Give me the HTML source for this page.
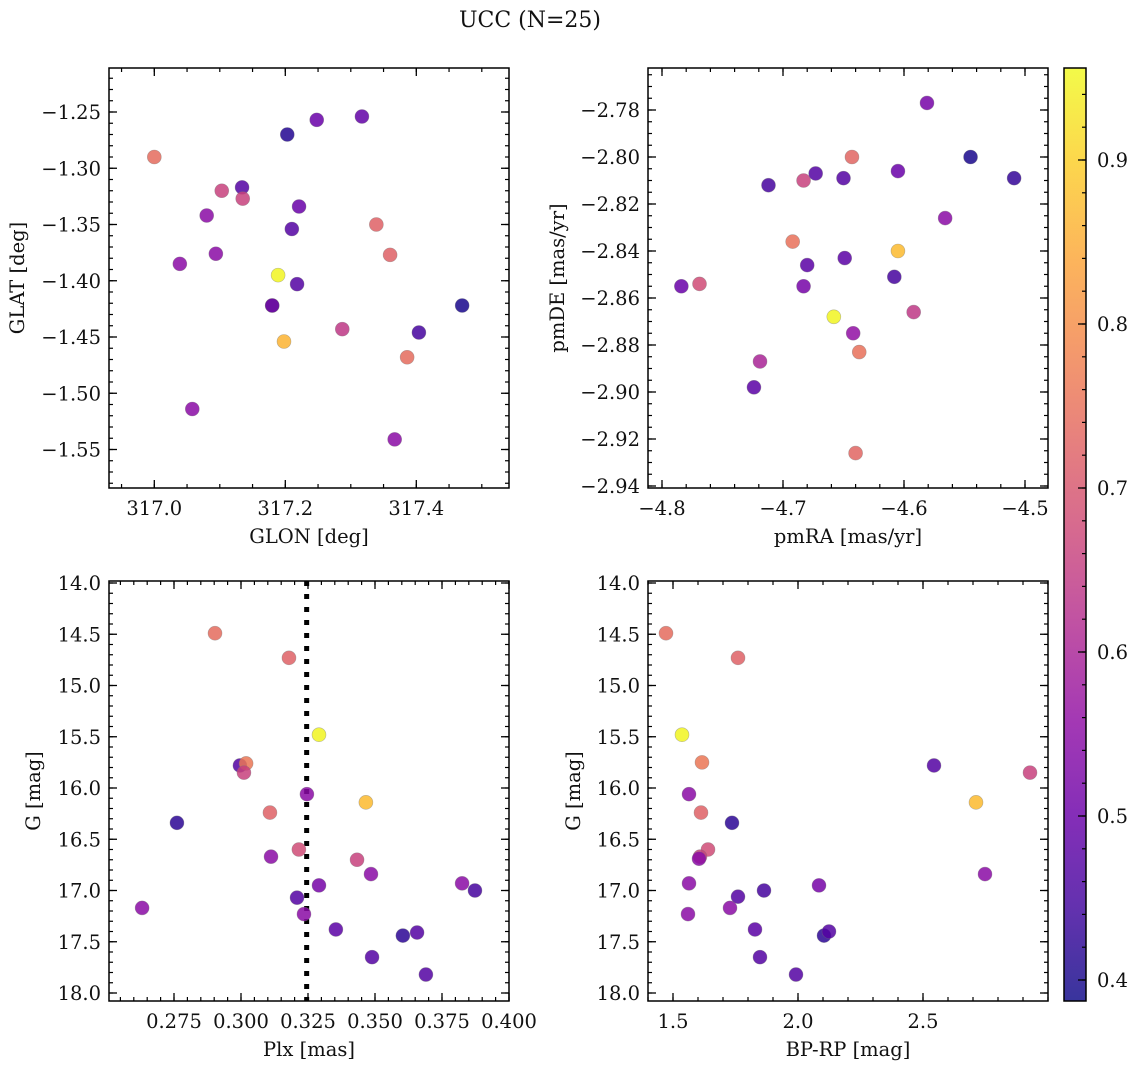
<!DOCTYPE html>
<html><head><meta charset="utf-8"><style>
html,body{margin:0;padding:0;background:#fff;}
svg text{font-family:"DejaVu Serif","Liberation Serif",serif;fill:#111;}
</style></head><body>
<svg id="fig" width="1136" height="1068" viewBox="0 0 1136 1068" xmlns="http://www.w3.org/2000/svg">
<text x="530" y="27" font-size="22" text-anchor="middle">UCC (N=25)</text>
</svg>
<script>
const glon=[317.000,317.203,317.248,317.317,317.103,317.134,317.135,317.221,317.080,317.210,317.339,317.039,317.094,317.360,317.189,317.218,317.180,317.180,317.470,317.198,317.287,317.404,317.386,317.058,317.367];
const glat=[-1.290,-1.270,-1.257,-1.254,-1.320,-1.317,-1.327,-1.334,-1.342,-1.354,-1.350,-1.385,-1.376,-1.377,-1.395,-1.403,-1.422,-1.422,-1.422,-1.454,-1.443,-1.446,-1.468,-1.514,-1.541];
const col1=[0.74,0.41,0.50,0.49,0.66,0.47,0.66,0.50,0.55,0.47,0.72,0.55,0.55,0.72,0.95,0.47,0.66,0.48,0.40,0.86,0.64,0.45,0.74,0.55,0.55];
const pmra=[-4.581,-4.545,-4.509,-4.643,-4.683,-4.712,-4.673,-4.650,-4.605,-4.566,-4.692,-4.605,-4.680,-4.649,-4.608,-4.784,-4.769,-4.683,-4.658,-4.592,-4.642,-4.637,-4.719,-4.724,-4.640];
const pmde=[-2.777,-2.800,-2.809,-2.800,-2.810,-2.812,-2.807,-2.809,-2.806,-2.826,-2.836,-2.840,-2.846,-2.843,-2.851,-2.855,-2.854,-2.855,-2.868,-2.866,-2.875,-2.883,-2.887,-2.898,-2.926];
const col2=[0.52,0.40,0.43,0.73,0.66,0.45,0.47,0.47,0.50,0.55,0.75,0.87,0.48,0.48,0.45,0.50,0.68,0.52,0.95,0.64,0.56,0.75,0.60,0.48,0.73];
const plx=[0.2903,0.3179,0.3291,0.2996,0.3019,0.3011,0.3246,0.3466,0.3108,0.2761,0.3112,0.3216,0.3433,0.3485,0.3291,0.3825,0.3873,0.3209,0.2631,0.3235,0.3354,0.3604,0.3657,0.3489,0.3690];
const gmag3=[14.49,14.73,15.48,15.78,15.76,15.85,16.06,16.14,16.24,16.34,16.67,16.60,16.70,16.84,16.95,16.93,17.00,17.07,17.17,17.23,17.38,17.44,17.41,17.65,17.82];
const col3=[0.74,0.72,0.95,0.47,0.76,0.66,0.55,0.87,0.72,0.42,0.55,0.68,0.66,0.55,0.52,0.55,0.45,0.47,0.55,0.55,0.48,0.42,0.47,0.47,0.47];
const bprp=[1.472,1.760,1.536,1.616,2.544,2.928,1.564,2.712,1.612,1.736,1.640,1.608,1.604,2.748,1.564,2.084,1.864,1.760,1.728,1.560,1.828,2.104,2.124,1.848,1.992];
const gmag4=[14.49,14.73,15.48,15.75,15.78,15.85,16.06,16.14,16.24,16.34,16.60,16.67,16.69,16.84,16.93,16.95,17.00,17.06,17.17,17.23,17.38,17.44,17.40,17.65,17.82];
const col4=[0.74,0.72,0.95,0.76,0.47,0.66,0.55,0.87,0.72,0.42,0.68,0.66,0.55,0.55,0.55,0.52,0.45,0.47,0.55,0.55,0.48,0.42,0.47,0.47,0.47];
const plxLine=[0.3245];
const cbTicks=[0.4,0.5,0.6,0.7,0.8,0.9];
const VMIN=0.387, VMAX=0.956;

const NS="http://www.w3.org/2000/svg";
const svg=document.getElementById('fig');
const FS=19.5;
function mk(tag,attrs,parent){const e=document.createElementNS(NS,tag);for(const k in attrs)e.setAttribute(k,attrs[k]);(parent||svg).appendChild(e);return e;}
const plasma=[[13,8,135],[65,4,157],[106,0,168],[143,13,164],[177,42,144],[204,71,120],[225,100,98],[242,132,75],[252,166,54],[252,206,37],[240,249,33]];
function cmap(v){let t=(v-VMIN)/(VMAX-VMIN);t=Math.max(0,Math.min(1,t))*10;const i=Math.min(9,Math.floor(t)),f=t-i;const a=plasma[i],b=plasma[i+1];return `rgb(${Math.round(a[0]+(b[0]-a[0])*f)},${Math.round(a[1]+(b[1]-a[1])*f)},${Math.round(a[2]+(b[2]-a[2])*f)})`;}
function lin(d0,d1,p0,p1){return v=>p0+(v-d0)*(p1-p0)/(d1-d0);}
function fmt(v,dec){return (v<0?'\u2212':'')+Math.abs(v).toFixed(dec);}

function panel(o){
  const g=mk('g',{});
  
  
  const {L,T,R,B}=o;
  function ticks(axis,start,end,step,len){
    const n=Math.round((end-start)/step);
    for(let i=0;i<=n;i++){
      const v=start+i*step;
      if(axis==='x'){const x=o.sx(v);if(x<L-0.5||x>R+0.5)continue;
        mk('line',{x1:x,y1:B,x2:x,y2:B-len,stroke:'#000','stroke-width':1.2},g);
        mk('line',{x1:x,y1:T,x2:x,y2:T+len,stroke:'#000','stroke-width':1.2},g);}
      else{const y=o.sy(v);if(y<T-0.5||y>B+0.5)continue;
        mk('line',{x1:L,y1:y,x2:L+len,y2:y,stroke:'#000','stroke-width':1.2},g);
        mk('line',{x1:R,y1:y,x2:R-len,y2:y,stroke:'#000','stroke-width':1.2},g);}
    }
  }
  ticks('x',o.xmin[0],o.xmin[1],o.xmin[2],4);
  ticks('y',o.ymin[0],o.ymin[1],o.ymin[2],4);
  o.xt.forEach(v=>{const x=o.sx(v);
    mk('line',{x1:x,y1:B,x2:x,y2:B-8,stroke:'#000','stroke-width':1.3},g);
    mk('line',{x1:x,y1:T,x2:x,y2:T+8,stroke:'#000','stroke-width':1.3},g);
    const t=mk('text',{x:x,y:B+27,'font-size':FS,'text-anchor':'middle'},g);t.textContent=fmt(v,o.xd);
    
    });
  o.yt.forEach(v=>{const y=o.sy(v);
    mk('line',{x1:L,y1:y,x2:L+8,y2:y,stroke:'#000','stroke-width':1.3},g);
    mk('line',{x1:R,y1:y,x2:R-8,y2:y,stroke:'#000','stroke-width':1.3},g);
    const t=mk('text',{x:L-8,y:y+7,'font-size':FS,'text-anchor':'end'},g);t.textContent=fmt(v,o.yd);
    
    });
  if(o.extra)o.extra(g);
  for(let i=0;i<o.xs.length;i++){
    const c=mk('circle',{cx:o.sx(o.xs[i]),cy:o.sy(o.ys[i]),r:7,fill:cmap(o.cs[i]),'fill-opacity':0.85,stroke:'#777','stroke-opacity':0.5,'stroke-width':0.6},g);
    
    
  }
  const fr=mk('rect',{x:L,y:T,width:R-L,height:B-T,fill:'none',stroke:'#000','stroke-width':1.5},g);
  
  
  const xl=mk('text',{x:(L+R)/2,y:B+55,'font-size':FS,'text-anchor':'middle'},g);xl.textContent=o.xlabel;
  
  
  const yx=o.ylx, yy=(T+B)/2;
  const yl=mk('text',{x:yx,y:yy,'font-size':FS,'text-anchor':'middle',transform:`rotate(-90 ${yx} ${yy})`},g);yl.textContent=o.ylabel;
  
  
}

panel({name:'glon-glat-panel',L:109,T:68,R:509,B:488,
  sx:lin(317.0,317.4,154.3,416.3),sy:lin(-1.25,-1.55,112,449.5),
  xs:glon,ys:glat,cs:col1,xt:[317.0,317.2,317.4],xd:1,yt:[-1.25,-1.30,-1.35,-1.40,-1.45,-1.50,-1.55],yd:2,
  xmin:[316.9,317.6,0.05],ymin:[-1.6,-1.2,0.01],xlabel:'GLON [deg]',ylabel:'GLAT [deg]',ylx:24});
panel({name:'pm-panel',L:648,T:68,R:1048,B:488,
  sx:lin(-4.8,-4.5,662,1025),sy:lin(-2.82,-2.92,204,439),
  xs:pmra,ys:pmde,cs:col2,xt:[-4.8,-4.7,-4.6,-4.5],xd:1,yt:[-2.78,-2.80,-2.82,-2.84,-2.86,-2.88,-2.90,-2.92,-2.94],yd:2,
  xmin:[-4.84,-4.46,0.02],ymin:[-2.95,-2.75,0.005],xlabel:'pmRA [mas/yr]',ylabel:'pmDE [mas/yr]',ylx:564});
panel({name:'plx-g-panel',L:109,T:581,R:509,B:1001,
  sx:lin(0.275,0.400,174,509),sy:lin(14,18,583,993),
  xs:plx,ys:gmag3,cs:col3,xt:[0.275,0.300,0.325,0.350,0.375,0.400],xd:3,yt:[14.0,14.5,15.0,15.5,16.0,16.5,17.0,17.5,18.0],yd:1,
  xmin:[0.250,0.400,0.005],ymin:[14,18.1,0.1],xlabel:'Plx [mas]',ylabel:'G [mag]',ylx:40,
  extra:g=>{const sx=lin(0.275,0.400,174,509);plxLine.forEach(v=>{const l=mk('line',{x1:sx(v),y1:581,x2:sx(v),y2:1001,stroke:'#000','stroke-width':5,'stroke-dasharray':'5 8'},g);
    
    });}});
panel({name:'cmd-panel',L:648,T:581,R:1048,B:1001,
  sx:lin(1.5,2.5,673,923),sy:lin(14,18,583,993),
  xs:bprp,ys:gmag4,cs:col4,xt:[1.5,2.0,2.5],xd:1,yt:[14.0,14.5,15.0,15.5,16.0,16.5,17.0,17.5,18.0],yd:1,
  xmin:[1.4,3.0,0.1],ymin:[14,18.1,0.1],xlabel:'BP-RP [mag]',ylabel:'G [mag]',ylx:580});

const cb=mk('g',{});


const defs=mk('defs',{},cb);
const gr=mk('linearGradient',{id:'cbg',x1:0,y1:1,x2:0,y2:0},defs);
for(let i=0;i<=20;i++){const v=VMIN+(VMAX-VMIN)*i/20;mk('stop',{offset:i/20,'stop-color':cmap(v)},gr);}
const CT=68,CB=1001,CL=1064,CR=1086;
mk('rect',{x:CL,y:CT,width:CR-CL,height:CB-CT,fill:'url(#cbg)','fill-opacity':0.82},cb);
const cy=lin(0.8,0.9,324,160);
for(let v=0.38;v<=0.96;v+=0.02){const y=cy(v);if(y<CT||y>CB)continue;mk('line',{x1:CR,y1:y,x2:CR-4,y2:y,stroke:'#000','stroke-width':1.2},cb);}
cbTicks.forEach(v=>{const y=cy(v);mk('line',{x1:CR,y1:y,x2:CR-8,y2:y,stroke:'#000','stroke-width':1.3},cb);
  const t=mk('text',{x:CR+11,y:y+7,'font-size':FS},cb);t.textContent=v.toFixed(1);
  
  });
mk('rect',{x:CL,y:CT,width:CR-CL,height:CB-CT,fill:'none',stroke:'#000','stroke-width':1.5},cb);
</script>
</body></html>
